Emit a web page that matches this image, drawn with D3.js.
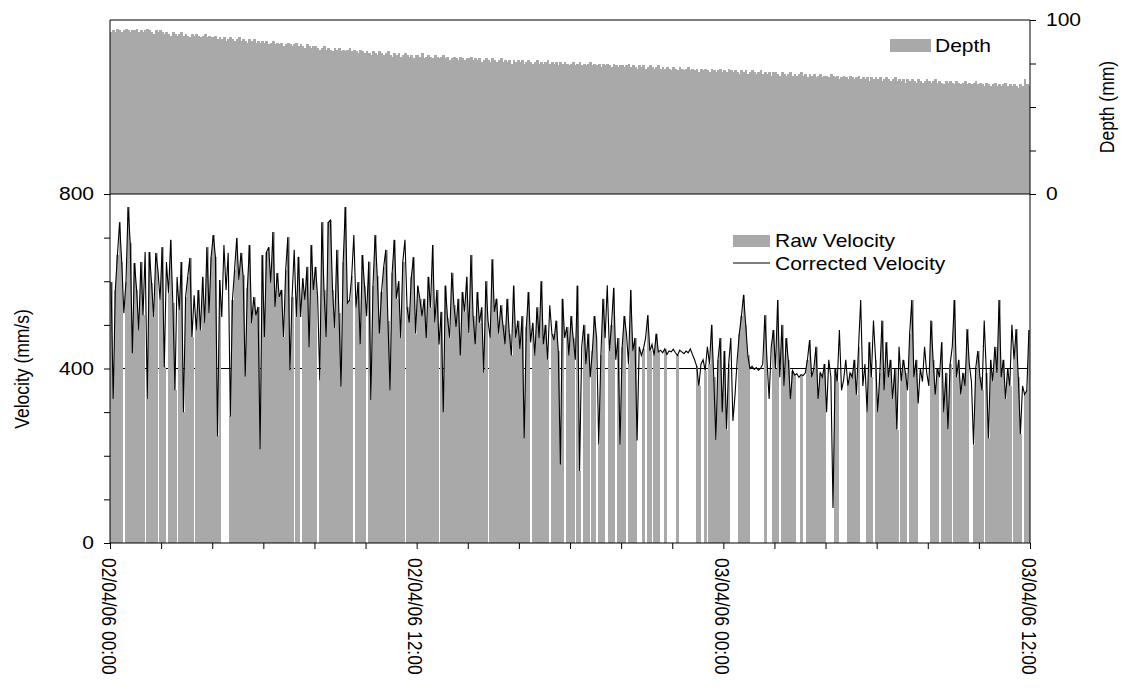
<!DOCTYPE html>
<meta charset="utf-8">
<style>
    body { margin: 0; background: #fff; }
    svg { font-family: "Liberation Sans", Arial, sans-serif; }
    .bar { shape-rendering: crispEdges; }
</style>
<body>
<script src="https://cdn.jsdelivr.net/npm/d3@7"></script>
<script>
    // time axis: 5 minute readings from 02/04/06 00:00 to 03/04/06 12:00
    const startTime = new Date(2006, 3, 2, 0, 0);
    const endTime = new Date(2006, 3, 3, 12, 0);
    const stepMinutes = 5;

    const xTickLabels = ["02/04/06 00:00", "02/04/06 12:00", "03/04/06 00:00", "03/04/06 12:00"];
    const velocityTicks = [0, 400, 800];
    const depthTicks = [0, 100];
    const referenceVelocity = 400;

    // depth (mm)
    const depth = [
        93,94,93,95,94,93,94,95,94,93,94,94,95,93,94,93,94,95,94,93,92,94,93,94,
        93,92,93,92,91,93,92,91,92,93,91,92,91,90,92,91,92,91,90,91,92,90,91,90,
        90,91,89,90,89,90,88,89,90,89,88,89,90,88,89,88,87,89,88,89,87,88,87,88,
        87,88,86,87,88,86,87,86,87,85,86,87,86,85,86,87,85,86,85,84,86,85,84,85,
        85,84,83,84,85,83,84,83,82,84,83,84,82,83,82,83,84,82,83,82,81,83,82,81,
        82,81,80,82,81,80,82,81,80,81,82,80,79,81,80,81,79,80,81,80,79,80,78,80,
        80,79,81,78,79,80,79,78,80,79,78,79,80,78,79,77,78,79,78,77,79,78,77,78,
        78,79,77,78,77,78,76,77,78,77,76,78,77,76,77,78,76,77,76,77,75,77,76,77,
        76,77,75,76,77,76,75,76,77,75,76,75,76,77,75,76,75,76,74,76,75,76,75,74,
        75,76,74,75,76,74,75,74,75,76,74,75,74,75,73,75,74,75,74,73,75,74,73,74,
        74,73,74,75,73,74,73,72,74,73,74,72,73,74,73,72,73,74,72,73,72,73,72,71,
        73,72,71,73,72,71,72,73,71,72,71,72,70,72,71,72,71,70,72,71,70,71,72,70,
        71,70,72,71,70,71,70,69,71,70,71,69,70,71,70,69,70,71,69,70,69,70,68,70,
        70,69,68,70,69,68,69,70,68,69,68,69,70,68,69,67,69,68,69,67,68,69,67,68,
        68,67,69,68,67,68,66,67,68,67,66,68,67,66,67,68,66,67,66,67,65,67,66,67,
        66,67,65,66,67,66,65,66,67,65,66,65,66,64,66,65,66,65,64,66,65,64,65,66,
        65,64,65,66,64,65,64,63,65,64,65,64,63,65,64,63,64,65,63,64,63,64,65,63,
        64,63,62,64,63,62,63,64,62,63,62,63,64,62,63,62,63,62,61,63,62,66,63,62
    ];

    // corrected velocity (mm/s)
    const correctedVelocity = [
        598,330,580,660,735,644,527,598,770,688,435,642,580,488,644,522,667,330,667,596,
        518,665,626,557,678,403,644,573,695,550,350,610,534,644,300,564,610,653,472,568,
        488,580,488,610,504,678,527,656,706,656,245,603,518,683,580,665,290,557,626,699,
        603,665,614,381,584,683,504,564,522,541,215,660,472,667,678,596,713,541,619,564,
        580,472,626,701,396,564,672,518,656,518,607,557,633,449,683,580,633,564,373,735,
        580,472,735,740,580,493,672,527,358,644,770,550,557,
        612,706,540,598,455,660,590,520,645,328,590,706,612,480,575,632,672,510,350,620,
        695,560,600,470,645,695,540,505,610,655,480,590,560,
        520,560,470,610,540,683,505,580,455,530,300,590,515,470,620,545,495,560,430,575,
        530,610,480,660,520,455,575,505,540,390,600,510,470,650,530,560,480,545,
        500,455,560,480,430,590,470,510,445,520,240,495,575,460,505,430,540,470,600,455,
        500,420,545,480,465,510,440,180,560,470,495,430,520,
        470,420,590,165,450,500,410,480,380,440,520,470,225,430,560,470,591,440,500,585,
        420,470,225,450,520,480,410,580,440,470,235,450,430,
        445,470,522,440,455,430,480,438,442,436,445,432,440,438,444,436,430,442,438,434,
        440,436,445,432,420,405,360,410,
        420,395,450,410,500,380,236,420,470,300,440,260,410,470,280,340,420,480,520,569,
        500,430,400,405,398,402,396,400,
        410,522,420,330,450,488,400,557,380,500,360,470,420,330,395,385,388,380,386,
        384,390,420,465,380,400,450,330,390,380,410,300,420,380,80,400,370,488,350,374,
        420,360,390,
        380,420,340,450,557,360,410,300,460,380,510,420,300,390,510,350,460,380,420,330,
        400,260,450,370,420,390,350,480,557,380,420,320,400,370,450,390,360,510,420,340,
        400,380,460,300,390,260,410,450,557,380,420,340,390,360,490,410,370,225,400,440,
        380,350,510,390,240,420,370,450,390,557,380,420,330,400,360,500,420,490,380,250,
        360,340,350,488
    ];

    // 1 = raw reading present, 0 = raw reading missing
    const rawPresent = ("1111110111 1111110111 1101110111 1011111110 1111111111 1100001111 " +
        "1111111111 1111111111 1111110110 1111111011 1111111111 1111011111 0111111111 " +
        "1111111101 1111111111 1111011111 1111111111 1111111011 1111111111 1111111011 " +
        "1111110111 1110111101 1011101101 1100111011 1101111000 1011011100 1000001000 " +
        "0000011001 0111111111 1000011111 0000000100 0111011111 1100100111 1111110000 " +
        "1100001111 1100011101 1111111111 0111011110 0000011110 1111101111 1110011111 " +
        "0111111111 1110111101 11").replace(/ /g, "");

    const rawVelocity = correctedVelocity.map((v, i) => rawPresent[i] === "1" ? v : 0);

    const width = 1125, height = 688;
    const plotLeft = 110, plotRight = 1030, plotTop = 20, plotMid = 194, plotBottom = 543;
    const grey = "#a8a9a8";
    const fontSize = 17.5;
    const stretch = "scale(1.2,1)";

    const svg = d3.select("body").append("svg")
        .attr("width", width)
        .attr("height", height);

    const x = d3.scaleTime().domain([startTime, endTime]).range([plotLeft, plotRight]);
    const yDepth = d3.scaleLinear().domain([0, 100]).range([plotMid, plotTop]);
    const yVel = d3.scaleLinear().domain([0, 800]).range([plotBottom, plotMid]);

    const times = depth.map((d, i) => d3.timeMinute.offset(startTime, i * stepMinutes));
    const bw = x(d3.timeMinute.offset(startTime, stepMinutes)) - x(startTime);

    // depth bars
    svg.append("g")
        .selectAll("rect")
        .data(depth)
        .enter().append("rect")
        .attr("class", "bar")
        .attr("x", (d, i) => x(times[i]))
        .attr("width", (d, i) => Math.min(bw + 0.7, plotRight - x(times[i])))
        .attr("y", d => yDepth(d))
        .attr("height", d => plotMid - yDepth(d))
        .style("fill", grey);

    // 400 mm/s reference, sits behind the raw bars
    svg.append("line")
        .attr("x1", plotLeft).attr("x2", plotRight)
        .attr("y1", yVel(referenceVelocity)).attr("y2", yVel(referenceVelocity))
        .style("stroke", "#000")
        .style("stroke-width", 1);

    // raw velocity bars
    svg.append("g")
        .selectAll("rect")
        .data(rawVelocity)
        .enter().append("rect")
        .attr("class", "bar")
        .attr("x", (d, i) => x(times[i]))
        .attr("width", (d, i) => Math.min(bw + 0.7, plotRight - x(times[i])))
        .attr("y", d => yVel(d))
        .attr("height", d => plotBottom - yVel(d))
        .style("fill", grey);

    // corrected velocity line
    const line = d3.line()
        .x((d, i) => x(times[i]) + bw / 2)
        .y(d => yVel(d));

    svg.append("path")
        .datum(correctedVelocity)
        .attr("d", line)
        .style("fill", "none")
        .style("stroke", "#000")
        .style("stroke-width", 1.1);

    // frame
    const frame = [
        [plotLeft, plotTop, plotRight, plotTop], [plotLeft, plotMid, plotRight, plotMid],
        [plotLeft, plotBottom, plotRight, plotBottom],
        [plotLeft, plotTop, plotLeft, plotBottom], [plotRight, plotTop, plotRight, plotBottom]
    ];
    svg.append("g").selectAll("line")
        .data(frame)
        .enter().append("line")
        .attr("x1", d => d[0]).attr("y1", d => d[1])
        .attr("x2", d => d[2]).attr("y2", d => d[3])
        .style("stroke", "#000")
        .style("stroke-width", 1);

    function tidy(g) {
        g.select(".domain").remove();
        g.selectAll(".tick line").style("stroke", "#000");
    }

    // axes (ticks only, labels drawn below)
    svg.append("g")
        .attr("transform", "translate(" + plotLeft + ",0)")
        .call(d3.axisLeft(yVel).tickValues(d3.range(0, 801, 100)).tickSize(6).tickFormat(""))
        .call(tidy);

    svg.append("g")
        .attr("transform", "translate(" + plotRight + ",0)")
        .call(d3.axisRight(yDepth).tickValues(d3.range(0, 101, 25)).tickSize(6).tickFormat(""))
        .call(tidy);

    svg.append("g")
        .attr("transform", "translate(0," + plotBottom + ")")
        .call(d3.axisBottom(x).ticks(d3.timeHour.every(2)).tickSize(6).tickFormat(""))
        .call(tidy);

    function label(tx, ty, rot, anchor, str) {
        svg.append("text")
            .attr("transform", "translate(" + tx + "," + ty + ") " + stretch + (rot ? " rotate(" + rot + ")" : ""))
            .attr("dy", "0.35em")
            .style("text-anchor", anchor)
            .style("font-size", fontSize + "px")
            .style("fill", "#000")
            .text(str);
    }

    velocityTicks.forEach(v => label(94, yVel(v), 0, "end", v));
    depthTicks.forEach(v => label(1046, yDepth(v), 0, "start", v));

    xTickLabels.forEach((s, i) => {
        const t = d3.timeHour.offset(startTime, i * 12);
        label(x(t) - 1, 558, 90, "start", s);
    });

    label(22, 369, -90, "middle", "Velocity (mm/s)");
    label(1107, 107, -90, "middle", "Depth (mm)");

    // legends
    svg.append("rect").attr("x", 890).attr("y", 39).attr("width", 41).attr("height", 13).style("fill", grey);
    label(935, 46, 0, "start", "Depth");

    svg.append("rect").attr("x", 733).attr("y", 235).attr("width", 37).attr("height", 12).style("fill", grey);
    label(775, 241, 0, "start", "Raw Velocity");

    svg.append("line").attr("x1", 733).attr("x2", 770).attr("y1", 263).attr("y2", 263)
        .style("stroke", "#000").style("stroke-width", 1);
    label(775, 264, 0, "start", "Corrected Velocity");
</script>
</body>
</html>
